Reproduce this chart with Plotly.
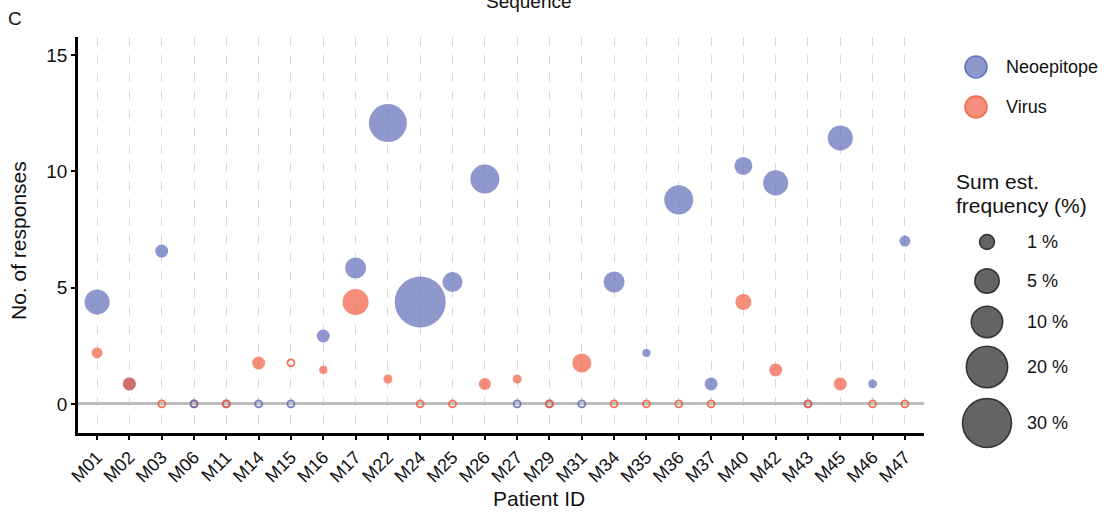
import numpy as np
import plotly.graph_objects as go

# ---------------- data ----------------
patients = ["M01", "M02", "M03", "M06", "M11", "M14", "M15", "M16", "M17", "M22",
            "M24", "M25", "M26", "M27", "M29", "M31", "M34", "M35", "M36", "M37",
            "M40", "M42", "M43", "M45", "M46", "M47"]

neo_responses = [4.38, 0.86, 6.57, 0, 0, 0, 0, 2.92, 5.84, 12.07,
                 4.38, 5.24, 9.67, 0, 0, 0, 5.24, 2.19, 8.77, 0.86,
                 10.23, 9.50, 0, 11.43, 0.86, 7.0]
neo_freq = [5.4, 0.54, 0.54, 0, 0, 0, 0, 0.54, 3.2, 16.2,
            32.9, 2.75, 8.1, 0, 0, 0, 3.2, 0.01, 8.1, 0.54,
            1.95, 5.4, 0, 5.4, 0.04, 0.22]

virus_responses = [2.19, 0.86, 0, 0, 0, 1.76, 1.76, 1.46, 4.38, 1.07,
                   0, 0, 0.86, 1.07, 0, 1.76, 0, 0, 0, 0,
                   4.38, 1.46, 0, 0.86, 0, 0]
virus_freq = [0.22, 0.54, 0, 0, 0, 0.54, 0, 0.01, 6.0, 0.04,
              0, 0, 0.37, 0.04, 0, 2.33, 0, 0, 0, 0,
              1.28, 0.54, 0, 0.54, 0, 0]

size_legend_values = [1, 5, 10, 20, 30]
size_legend_labels = ["1 %", "5 %", "10 %", "20 %", "30 %"]
blue_on_top = ["M06"]

# ---------------- styles ----------------
W, H = 1111, 518
PL, PR, PT, PB = 78, 924, 37, 433
BLUE = "rgba(95,108,184,0.7)"
ORANGE = "rgba(239,93,64,0.7)"
BLUE_OPEN = "rgba(95,108,184,0.85)"
ORANGE_OPEN = "rgba(239,93,64,0.85)"
FONT = "Liberation Sans, Arial, sans-serif"


def diam(p):
    return 7.4 + 7.6 * np.sqrt(np.asarray(p, dtype=float))


fig = go.Figure()


def add_series(resp, freq, color, open_color, name, exclude_open=(), only_open=None):
    if only_open is None:
        x_f = [p for p, f in zip(patients, freq) if f > 0]
        y_f = [r for r, f in zip(resp, freq) if f > 0]
        s_f = [float(diam(f)) for f in freq if f > 0]
        fig.add_trace(go.Scatter(x=x_f, y=y_f, mode="markers", name=name, showlegend=False,
                                 marker=dict(size=s_f, color=color, opacity=1, line=dict(width=0)),
                                 xaxis="x", yaxis="y", cliponaxis=False))
    x_o, y_o = [], []
    for p, r, f in zip(patients, resp, freq):
        if f == 0:
            if only_open is not None and p not in only_open:
                continue
            if only_open is None and p in exclude_open:
                continue
            x_o.append(p)
            y_o.append(r)
    fig.add_trace(go.Scatter(x=x_o, y=y_o, mode="markers", name=name, showlegend=False,
                             marker=dict(size=7, symbol="circle-open", color=open_color, opacity=1,
                                         line=dict(width=1.8, color=open_color)),
                             xaxis="x", yaxis="y", cliponaxis=False))


add_series(neo_responses, neo_freq, BLUE, BLUE_OPEN, "Neoepitope", exclude_open=blue_on_top)
add_series(virus_responses, virus_freq, ORANGE, ORANGE_OPEN, "Virus")
add_series(neo_responses, neo_freq, BLUE, BLUE_OPEN, "Neoepitope", only_open=blue_on_top)

# ---------------- legend (overlay axis in pixel units) ----------------
fig.add_trace(go.Scatter(x=[976, 976], y=[67, 107], mode="markers", showlegend=False,
                         marker=dict(size=22, color=[BLUE, ORANGE], opacity=1,
                                     line=dict(width=1.5, color=["rgba(95,108,184,0.9)", "rgba(239,93,64,0.9)"])),
                         xaxis="x2", yaxis="y2", hoverinfo="skip"))
leg_y = [242, 281, 322, 367, 423]
fig.add_trace(go.Scatter(x=[987] * len(size_legend_values), y=leg_y, mode="markers", showlegend=False,
                         marker=dict(size=[float(v) for v in diam(size_legend_values)],
                                     color="rgba(34,34,34,0.7)", opacity=1,
                                     line=dict(width=1.5, color="rgba(30,30,30,0.85)")),
                         xaxis="x2", yaxis="y2", hoverinfo="skip"))

ann = []
def px_ann(text, x, y, size, xanchor="left", angle=0, color="#111"):
    ann.append(dict(text=text, x=x / W, y=1 - y / H, xref="paper", yref="paper",
                    xanchor=xanchor, yanchor="middle", showarrow=False, textangle=angle,
                    borderpad=0, font=dict(family=FONT, size=size, color=color)))

px_ann("Neoepitope", 1005, 67, 18)
px_ann("Virus", 1005, 107, 18)
px_ann("Sum est.", 955, 182, 21)
px_ann("frequency (%)", 955, 205, 21)
for lab, yy in zip(size_legend_labels, leg_y):
    px_ann(lab, 1026, yy, 18)
px_ann("C", 7, 18, 19)
px_ann("Sequence", 529, 2, 19, xanchor="center")
px_ann("No. of responses", 18, 241, 21, xanchor="center", angle=-90)
px_ann("Patient ID", 539, 498, 21, xanchor="center")

fig.update_layout(
    width=W, height=H,
    margin=dict(l=0, r=0, t=0, b=0, autoexpand=False),
    paper_bgcolor="white", plot_bgcolor="rgba(0,0,0,0)",
    font=dict(family=FONT, size=16, color="#111"),
    annotations=ann,
    xaxis=dict(domain=[PL / W, PR / W], type="category", categoryorder="array",
               categoryarray=patients, range=[-0.59, 25.59], automargin=False,
               showgrid=True, gridcolor="#D9D9D9", gridwidth=1, griddash="dash",
               showline=True, linecolor="black", linewidth=2.5,
               ticks="outside", ticklen=4, tickwidth=1.5, tickcolor="black",
               tickangle=-45, tickfont=dict(size=18, color="#111"), zeroline=False,
               anchor="y", fixedrange=True),
    yaxis=dict(domain=[1 - PB / H, 1 - PT / H], range=[-1.25, 15.77], automargin=False,
               tickvals=[0, 5, 10, 15], showgrid=False,
               zeroline=True, zerolinecolor="#BDBDBD", zerolinewidth=3,
               showline=True, linecolor="black", linewidth=2.5,
               ticks="outside", ticklen=4, tickwidth=1.5, tickcolor="black",
               tickfont=dict(size=19, color="#111"), anchor="x", fixedrange=True),
    xaxis2=dict(domain=[0, 1], range=[0, W], visible=False, anchor="y2", fixedrange=True, automargin=False),
    yaxis2=dict(domain=[0, 1], range=[H, 0], visible=False, anchor="x2", fixedrange=True, automargin=False),
)

fig.write_html("out.html", post_script="document.body.style.margin='0';",
               config={"displayModeBar": False})
